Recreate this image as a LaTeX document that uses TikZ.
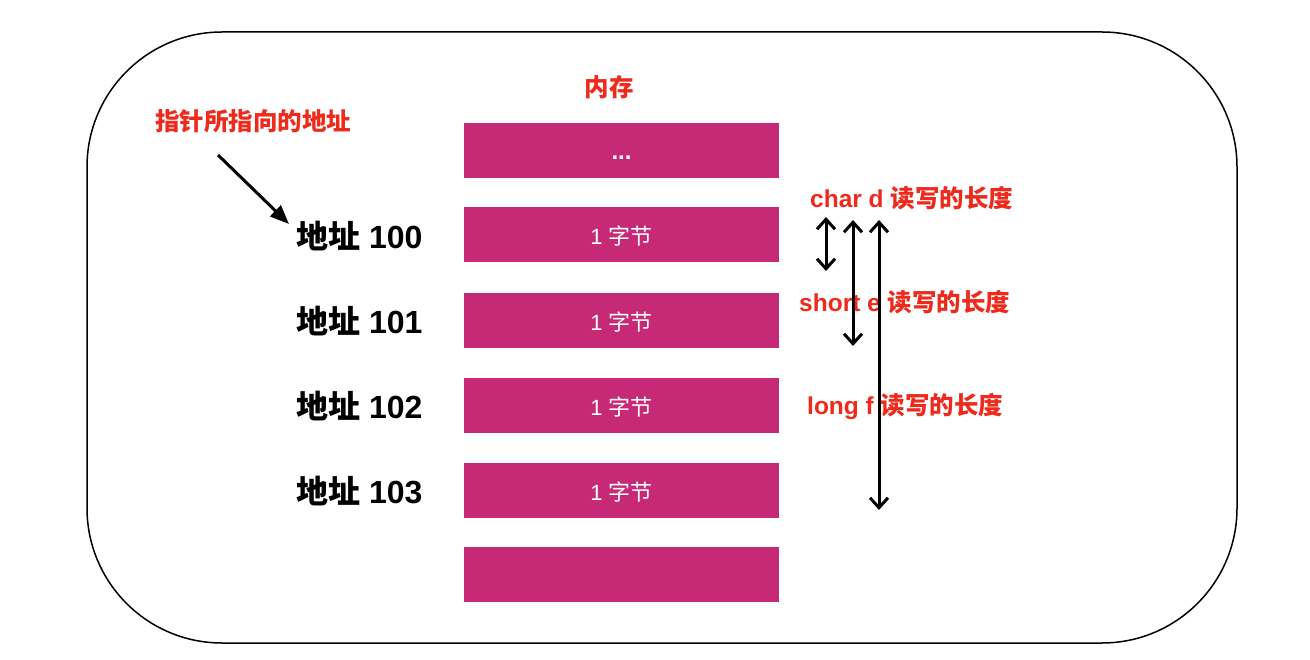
\documentclass[tikz,border=0pt]{standalone}
\usepackage{fontspec}
\setmainfont{Liberation Sans}
\newfontfamily\cjk{Noto Sans CJK SC}
\usetikzlibrary{arrows.meta}
\definecolor{mag}{HTML}{C62A77}
\definecolor{lred}{HTML}{EE2A1C}
\begin{document}
\begin{tikzpicture}[x=1pt,y=-1pt,
  membox/.style={fill=mag, draw=none, minimum width=315pt, minimum height=55pt, inner sep=0pt, text=white, text height=16pt, text depth=4pt, font=\fontsize{22}{24}\selectfont},
  addr/.style={anchor=west, inner sep=0pt, font=\fontsize{32}{34}\selectfont\bfseries},
  redlbl/.style={text=lred, inner sep=0pt, font=\fontsize{24.5}{27}\selectfont\bfseries},
  dbl/.style={line width=3pt, {Straight Barb[length=10pt,width=18pt,line width=3pt]}-{Straight Barb[length=10pt,width=18pt,line width=3pt]}},
  ptr/.style={line width=3pt, -{Triangle[length=19pt,width=15pt]}}
]
\useasboundingbox (0,0) rectangle (1310,660);
\draw[line width=1.5pt, rounded corners=135pt] (87,32) rectangle (1237,643);

\node[redlbl] (mem) at (609,87) {\cjk 内存};
\node[redlbl] (plabel) at (253,121) {\cjk 指针所指向的地址};

\node[membox] (b0) at (621.5,150.5) {\raisebox{-3pt}{\fontsize{24}{26}\selectfont\textbf{...}}};
\node[membox] (b1) at (621.5,234.5) {\raisebox{-4pt}{1 {\cjk 字节}}};
\node[membox] (b2) at (621.5,320.5) {\raisebox{-4pt}{1 {\cjk 字节}}};
\node[membox] (b3) at (621.5,405.5) {\raisebox{-4pt}{1 {\cjk 字节}}};
\node[membox] (b4) at (621.5,490.5) {\raisebox{-4pt}{1 {\cjk 字节}}};
\node[membox] (b5) at (621.5,574.5) {};

\node[addr] (a0) at (296,236) {{\cjk 地址} 100};
\node[addr] (a1) at (296,321) {{\cjk 地址} 101};
\node[addr] (a2) at (296,406) {{\cjk 地址} 102};
\node[addr] (a3) at (296,491) {{\cjk 地址} 103};

\node[redlbl, anchor=west] (lc) at (810,198) {char d {\cjk 读写的长度}};
\node[redlbl, anchor=west] (ls) at (799,302) {short e {\cjk 读写的长度}};
\node[redlbl, anchor=west] (ll) at (807,407) {long f {\cjk 读写的长度}};

\coordinate (pt) at (218,155);
\coordinate (ph) at (289,224);
\draw[ptr] (pt) -- (ph);

\coordinate (c1) at (826,217);
\coordinate (c2) at (826,271);
\coordinate (s1) at (853,220);
\coordinate (s2) at (853,346);
\coordinate (l1) at (879,220);
\coordinate (l2) at (879,510);
\draw[dbl] (c1) -- (c2);
\draw[dbl] (s1) -- (s2);
\draw[dbl] (l1) -- (l2);
\end{tikzpicture}
\end{document}
